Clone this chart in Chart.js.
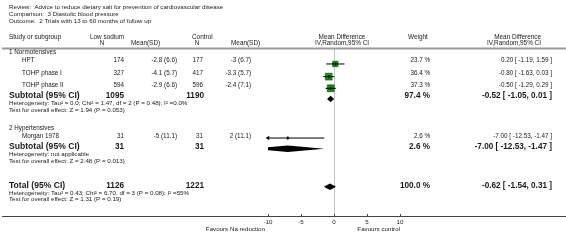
<!DOCTYPE html>
<html>
<head>
<meta charset="utf-8">
<script src="https://cdn.jsdelivr.net/npm/chart.js@4.4.0/dist/chart.umd.min.js"></script>
<style>
  html, body { margin: 0; padding: 0; background: #fff; }
  #wrap { width: 566px; height: 248px; }
</style>
</head>
<body>
<div id="wrap"><canvas id="forest" width="566" height="248"></canvas></div>
<script>
// study level data
const studies  = ['HPT', 'TOHP phase I', 'TOHP phase II', 'Morgan 1978'];
const lowN     = [174, 327, 594, 31];
const lowMean  = [-2.8, -4.1, -2.9, -5];
const lowSD    = [6.6, 5.7, 6.6, 11.1];
const ctrlN    = [177, 417, 596, 31];
const ctrlMean = [-3, -3.3, -2.4, 2];
const ctrlSD   = [6.7, 5.7, 7.1, 11.1];
const weights  = [23.7, 36.4, 37.3, 2.6];
const md       = [0.20, -0.80, -0.50, -7.00];
const ciLow    = [-1.19, -1.63, -1.29, -12.53];
const ciHigh   = [1.59, 0.03, 0.29, -1.47];

// pooled rows: subtotal 1, subtotal 2, total
const poolLabels = ['Subtotal (95% CI)', 'Subtotal (95% CI)', 'Total (95% CI)'];
const poolLowN   = [1095, 31, 1126];
const poolCtrlN  = [1190, 31, 1221];
const poolWeight = [97.4, 2.6, 100.0];
const poolMd     = [-0.52, -7.00, -0.62];
const poolLow    = [-1.05, -12.53, -1.54];
const poolHigh   = [0.01, -1.47, 0.31];
const heterogeneity = [
  'Heterogeneity: Tau² = 0.0; Chi² = 1.47, df = 2 (P = 0.48); I² =0.0%',
  'Heterogeneity: not applicable',
  'Heterogeneity: Tau² = 0.43; Chi² = 6.70, df = 3 (P = 0.08); I² =55%'
];
const overallEffect = [
  'Test for overall effect: Z = 1.94 (P = 0.053)',
  'Test for overall effect: Z = 2.48 (P = 0.013)',
  'Test for overall effect: Z = 1.31 (P = 0.19)'
];
const groups = ['1 Normotensives', '2 Hypertensives'];
const titleLines = [
  'Review:  Advice to reduce dietary salt for prevention of cardiovascular disease',
  'Comparison:  3 Diastolic blood pressure',
  'Outcome:  2 Trials with 13 to 60 months of follow up'
];
const xTicks = [-10, -5, 0, 5, 10];
const favours = ['Favours Na reduction', 'Favours control'];

// layout (pixel rows / columns)
const ROW = {
  title: [7, 14, 21], head: [37, 43], sep: 48.5,
  group: [52, 128], study: [60, 73, 85, 136],
  pool: [96, 147, 186], het: [103, 154, 193], test: [110, 161, 199],
  axis: 216, tick: 222, favours: 229
};
const COL = { left: 9, indent: 22, lowN: 124, lowMean: 177, ctrlN: 203, ctrlMean: 251, weight: 430, ci: 552 };
const FONT = '"Liberation Sans", Arial, sans-serif';
const INK = '#1a1a1a';

const fmtMD = (m, l, h) => `${m.toFixed(2)} [ ${l.toFixed(2)}, ${h.toFixed(2)} ]`;

const tablePlugin = {
  id: 'table',
  beforeDatasetsDraw(chart) {
    const { ctx, scales: { x } } = chart;
    ctx.save();
    // zero line
    ctx.strokeStyle = '#c4c4c4';
    ctx.lineWidth = 1;
    const x0 = Math.round(x.getPixelForValue(0)) + 0.5;
    ctx.beginPath(); ctx.moveTo(x0, ROW.sep); ctx.lineTo(x0, ROW.axis); ctx.stroke();
    ctx.restore();
  },
  afterDraw(chart) {
    const { ctx, scales: { x }, chartArea } = chart;
    ctx.save();
    // separators
    ctx.strokeStyle = '#9a9a9a';
    ctx.lineWidth = 2;
    ctx.beginPath(); ctx.moveTo(2, ROW.sep); ctx.lineTo(566, ROW.sep); ctx.stroke();
    ctx.strokeStyle = '#444';
    ctx.lineWidth = 1;
    ctx.beginPath(); ctx.moveTo(2, ROW.axis + 0.5); ctx.lineTo(566, ROW.axis + 0.5); ctx.stroke();
    xTicks.forEach(v => {
      const px = Math.round(x.getPixelForValue(v)) + 0.5;
      ctx.beginPath(); ctx.moveTo(px, ROW.axis - 2); ctx.lineTo(px, ROW.axis); ctx.stroke();
    });

    ctx.fillStyle = INK;
    ctx.textBaseline = 'middle';
    const txt = (s, px, py, align, size, bold) => {
      ctx.font = `${bold ? 'bold ' : ''}${size}px ${FONT}`;
      ctx.textAlign = align || 'left';
      ctx.fillText(s, px, py);
    };

    xTicks.forEach(v => txt(String(v), x.getPixelForValue(v), ROW.tick, 'center', 6.2));

    titleLines.forEach((t, i) => txt(t, COL.left, ROW.title[i], 'left', 6.2));

    // header
    txt('Study or subgroup', COL.left, ROW.head[0], 'left', 6.4);
    txt('Low sodium', 90, ROW.head[0], 'left', 6.4);
    txt('N', 102, ROW.head[1], 'center', 6.4);
    txt('Mean(SD)', 131, ROW.head[1], 'left', 6.4);
    txt('Control', 192, ROW.head[0], 'left', 6.4);
    txt('N', 197, ROW.head[1], 'center', 6.4);
    txt('Mean(SD)', 231, ROW.head[1], 'left', 6.4);
    txt('Mean Difference', 342, ROW.head[0], 'center', 6.4);
    txt('IV,Random,95% CI', 342, ROW.head[1], 'center', 6.4);
    txt('Weight', 408, ROW.head[0], 'left', 6.4);
    txt('Mean Difference', 541, ROW.head[0], 'right', 6.4);
    txt('IV,Random,95% CI', 541, ROW.head[1], 'right', 6.4);

    groups.forEach((g, i) => txt(g, COL.left, ROW.group[i], 'left', 6.3));

    studies.forEach((s, i) => {
      const y = ROW.study[i];
      txt(s, COL.indent, y, 'left', 6.3);
      txt(String(lowN[i]), COL.lowN, y, 'right', 6.3);
      txt(`${lowMean[i]} (${lowSD[i]})`, COL.lowMean, y, 'right', 6.3);
      txt(String(ctrlN[i]), COL.ctrlN, y, 'right', 6.3);
      txt(`${ctrlMean[i]} (${ctrlSD[i]})`, COL.ctrlMean, y, 'right', 6.3);
      txt(`${weights[i].toFixed(1)} %`, COL.weight, y, 'right', 6.3);
      txt(fmtMD(md[i], ciLow[i], ciHigh[i]), COL.ci, y, 'right', 6.3);
    });

    poolLabels.forEach((p, i) => {
      const y = ROW.pool[i];
      txt(p, COL.left, y, 'left', 8.6, true);
      txt(String(poolLowN[i]), COL.lowN, y, 'right', 8.2, true);
      txt(String(poolCtrlN[i]), COL.ctrlN + 1, y, 'right', 8.2, true);
      txt(`${poolWeight[i].toFixed(1)} %`, COL.weight, y, 'right', 8.2, true);
      txt(fmtMD(poolMd[i], poolLow[i], poolHigh[i]), COL.ci, y, 'right', 8.2, true);
      txt(heterogeneity[i], COL.left, ROW.het[i], 'left', 6.2);
      txt(overallEffect[i], COL.left, ROW.test[i], 'left', 6.2);
    });

    txt(favours[0], x.getPixelForValue(-10) - 3, ROW.favours, 'right', 6.2);
    txt(favours[1], x.getPixelForValue(10), ROW.favours, 'right', 6.2);

    // pooled diamonds, clipped to the plotting range
    ctx.save();
    ctx.beginPath();
    ctx.rect(chartArea.left, 0, chartArea.right - chartArea.left, chart.height);
    ctx.clip();
    ctx.fillStyle = '#000';
    poolMd.forEach((m, i) => {
      const y = chart.scales.y.getPixelForValue(ROW.pool[i]);
      const h = 3.2;
      ctx.beginPath();
      ctx.moveTo(x.getPixelForValue(poolLow[i]), y);
      ctx.lineTo(x.getPixelForValue(m), y - h);
      ctx.lineTo(x.getPixelForValue(poolHigh[i]), y);
      ctx.lineTo(x.getPixelForValue(m), y + h);
      ctx.closePath();
      ctx.fill();
    });
    ctx.restore();
    ctx.restore();
  }
};

// CI segments separated by gaps
const ciPoints = [];
studies.forEach((s, i) => {
  ciPoints.push({ x: ciLow[i], y: ROW.study[i] }, { x: ciHigh[i], y: ROW.study[i] }, { x: null, y: null });
});
const arrowPoints = studies
  .map((s, i) => ({ x: -10, y: ROW.study[i], clipped: ciLow[i] < -10 }))
  .filter(p => p.clipped);

new Chart(document.getElementById('forest'), {
  type: 'scatter',
  data: {
    datasets: [
      { label: 'CI', data: ciPoints, showLine: true, spanGaps: false, borderColor: '#000', borderWidth: 1, pointRadius: 0, order: 1 },
      { label: 'centre', data: studies.map((s, i) => ({ x: md[i], y: ROW.study[i] })),
        pointStyle: 'line', rotation: 90, pointRadius: 1.6, borderColor: '#000', borderWidth: 1, order: 0, clip: false },
      { label: 'arrow', data: arrowPoints, pointStyle: 'triangle', rotation: -90, pointRadius: 2,
        backgroundColor: '#000', borderColor: '#000', borderWidth: 0.5, order: 0, clip: false },
      { label: 'weight', data: studies.map((s, i) => ({ x: md[i], y: ROW.study[i] })),
        pointStyle: 'rect', pointRadius: ctx => Math.sqrt(weights[ctx.dataIndex]) * 0.8,
        backgroundColor: '#138c13', borderColor: '#0b5c0b', borderWidth: 0.6, order: 2 }
    ]
  },
  options: {
    responsive: false,
    animation: false,
    events: [],
    layout: { padding: { left: 268, right: 166, top: 0, bottom: 0 } },
    plugins: { legend: { display: false }, tooltip: { enabled: false } },
    scales: {
      x: {
        type: 'linear', min: -10, max: 10,
        afterBuildTicks: s => { s.ticks = xTicks.map(v => ({ value: v })); },
        afterFit: s => { s.height = 248 - ROW.axis; },
        grid: { display: false },
        border: { display: false },
        ticks: { display: false }
      },
      y: { type: 'linear', min: 0, max: ROW.axis, reverse: true, display: false }
    }
  },
  plugins: [tablePlugin]
});
</script>
</body>
</html>
